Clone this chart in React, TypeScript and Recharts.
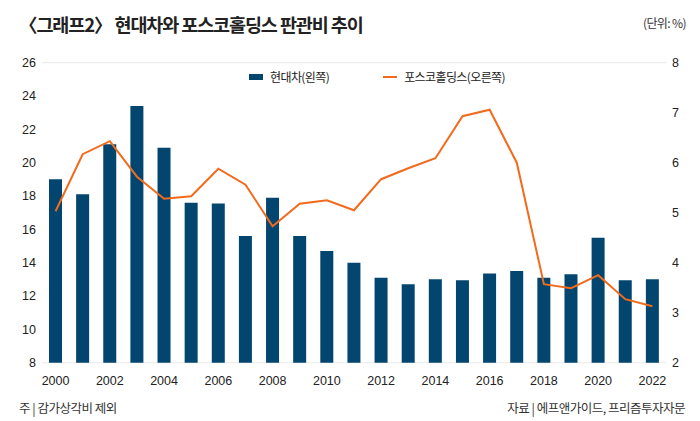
import React from 'react';
import { ComposedChart, Bar, Line, XAxis, YAxis, CartesianGrid } from 'recharts';

// 판관비 비율 (%), 2000~2022
const years = [
  '2000', '2001', '2002', '2003', '2004', '2005', '2006', '2007', '2008', '2009', '2010', '2011',
  '2012', '2013', '2014', '2015', '2016', '2017', '2018', '2019', '2020', '2021', '2022',
];
const hyundai = [
  19.0, 18.1, 21.1, 23.4, 20.9, 17.6, 17.55, 15.6, 17.9, 15.6, 14.7, 14.0,
  13.1, 12.7, 13.0, 12.95, 13.35, 13.5, 13.1, 13.3, 15.5, 12.95, 13.0,
];
const posco = [
  5.03, 6.17, 6.43, 5.72, 5.28, 5.33, 5.88, 5.56, 4.73, 5.18, 5.25, 5.05,
  5.67, 5.89, 6.09, 6.93, 7.06, 6.0, 3.57, 3.49, 3.75, 3.27, 3.13,
];
const leftTicks = [8, 10, 12, 14, 16, 18, 20, 22, 24, 26];
const rightTicks = [2, 3, 4, 5, 6, 7, 8];

const data = years.map((y, i) => ({ year: y, hyundai: hyundai[i], posco: posco[i] }));

const BLUE = '#02466f';
const ORANGE = '#f26a1c';
const KR = "'Noto Sans CJK KR', 'Noto Sans', sans-serif";
const NUM = "'Liberation Sans', Arial, sans-serif";
const tickStyle = { fontSize: 12.5, fill: '#222', fontFamily: NUM };

export default function App() {
  return (
    <div style={{ position: 'absolute', left: 0, top: 0, width: 700, height: 421, background: '#fff', fontFamily: KR, color: '#222' }}>
      <div style={{ position: 'absolute', left: 19, top: 10, fontSize: 18.5, fontWeight: 700, letterSpacing: -1.1, whiteSpace: 'nowrap', lineHeight: '28px' }}>
        〈그래프2〉 현대차와 포스코홀딩스 판관비 추이
      </div>
      <div style={{ position: 'absolute', right: 14, top: 14, fontSize: 12, letterSpacing: -0.6, color: '#333', lineHeight: '18px' }}>
        (단위: %)
      </div>

      <ComposedChart width={700} height={421} data={data} margin={{ top: 62.7, right: 0, bottom: 28.3, left: 0 }} barCategoryGap="25%">
        <CartesianGrid vertical={false} stroke="#ebebeb" strokeWidth={1} />
        <XAxis dataKey="year" height={30} interval={1} axisLine={false} tickLine={false} tickSize={0} tickMargin={13} tick={tickStyle} />
        <YAxis yAxisId="left" orientation="left" width={42} domain={[8, 26]} ticks={leftTicks} axisLine={false} tickLine={false} tickSize={0} tickMargin={6} tick={tickStyle} />
        <YAxis yAxisId="right" orientation="right" width={34} domain={[2, 8]} ticks={rightTicks} axisLine={false} tickLine={false} tickSize={0} tickMargin={6} tick={tickStyle} />
        <Bar yAxisId="left" dataKey="hyundai" fill={BLUE} barSize={13} isAnimationActive={false} />
        <Line yAxisId="right" dataKey="posco" type="linear" stroke={ORANGE} strokeWidth={2} dot={false} isAnimationActive={false} />
      </ComposedChart>

      <div style={{ position: 'absolute', left: 249, top: 69, display: 'flex', alignItems: 'center', fontSize: 12, letterSpacing: -0.6, lineHeight: '16px', whiteSpace: 'nowrap' }}>
        <span style={{ display: 'inline-block', width: 14, height: 6, background: BLUE, marginRight: 7 }} />
        <span>현대차(왼쪽)</span>
        <span style={{ display: 'inline-block', width: 14, height: 2, background: ORANGE, marginLeft: 54, marginRight: 7 }} />
        <span>포스코홀딩스(오른쪽)</span>
      </div>

      <div style={{ position: 'absolute', left: 19, top: 399, fontSize: 12.5, letterSpacing: -0.5, color: '#333', lineHeight: '18px', whiteSpace: 'nowrap' }}>
        주 | 감가상각비 제외
      </div>
      <div style={{ position: 'absolute', right: 15, top: 399, fontSize: 12.5, letterSpacing: -0.5, color: '#333', lineHeight: '18px', whiteSpace: 'nowrap' }}>
        자료 | 에프앤가이드, 프리즘투자자문
      </div>
    </div>
  );
}
